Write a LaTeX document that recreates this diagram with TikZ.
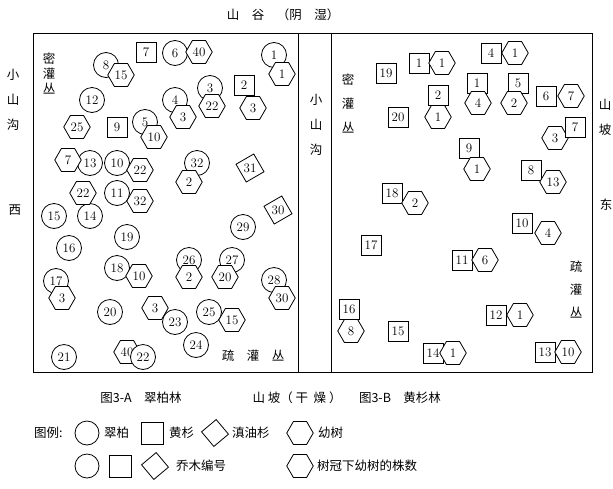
\documentclass[tikz,border=0pt]{standalone}
\usepackage{fontspec}
\newfontfamily\cjk{Noto Sans CJK SC}
\usetikzlibrary{shapes.geometric}

\tikzset{
  tree/.style={draw, line width=0.8pt, fill=white, inner sep=0pt, font=\fontsize{13}{13}\selectfont},
  cuibai/.style={tree, circle, minimum size=25pt},
  huangshan/.style={tree, rectangle, minimum size=20pt},
  dianyou/.style={tree, regular polygon, regular polygon sides=4, minimum size=29pt, shape border rotate=30},
  youshu/.style={tree, regular polygon, regular polygon sides=6, minimum size=26.5pt},
  cjktext/.style={font=\cjk\fontsize{12.5}{12.5}\selectfont, inner sep=0pt},
}

\begin{document}
\begin{tikzpicture}[x=1pt, y=-1pt]
   \useasboundingbox (0,0) rectangle (613,488);

   % frame
   \draw [line width=0.9pt] (33,33) rectangle (592,372);
   \draw [line width=0.9pt] (298,33) -- (298,372);
   \draw [line width=0.9pt] (331,33) -- (331,372);

   \node [cjktext] (top) at (283,15) {山\quad 谷\quad （阴\quad 湿）};
   \node [cjktext, align=center, font=\cjk\fontsize{12.5}{25}\selectfont] (westgully) at (13,100) {小\\山\\沟};
   \node [cjktext] (west) at (15,210) {西};
   \node [cjktext, align=center, font=\cjk\fontsize{12.5}{25}\selectfont] (midgully) at (316,125) {小\\山\\沟};
   \node [cjktext, align=center, font=\cjk\fontsize{12.5}{25}\selectfont] (eastslope) at (605,117) {山\\坡};
   \node [cjktext] (east) at (606,205) {东};

   % 3-A
   \node [cjktext, align=center, font=\cjk\fontsize{12.5}{15}\selectfont] (Adense) at (49,73) {密\\灌\\丛};
   \node [cjktext] (Asparse) at (253,356) {疏\quad 灌\quad 丛};

   \node [huangshan] (As7) at (146,52) {7};
   \node [huangshan] (As9) at (117,127) {9};
   \node [huangshan] (As2) at (244,85) {2};
   \node [dianyou] (Ad31) at (250,168) {31};
   \node [dianyou] (Ad30) at (278,210) {30};

   \node [cuibai] (Ac6) at (175,53) {6};
   \node [cuibai] (Ac1) at (274,55) {1};
   \node [cuibai] (Ac8) at (106,65) {8};
   \node [cuibai] (Ac12) at (92,100) {12};
   \node [cuibai] (Ac5) at (145,122) {5};
   \node [cuibai] (Ac4) at (175,100) {4};
   \node [cuibai] (Ac3) at (210,88) {3};
   \node [cuibai] (Ac13) at (90,163) {13};
   \node [cuibai] (Ac10) at (117,163) {10};
   \node [cuibai] (Ac14) at (90,216) {14};
   \node [cuibai] (Ac11) at (117,193) {11};
   \node [cuibai] (Ac15) at (54,216) {15};
   \node [cuibai] (Ac19) at (127,237) {19};
   \node [cuibai] (Ac16) at (69,248) {16};
   \node [cuibai] (Ac32) at (197,163) {32};
   \node [cuibai] (Ac29) at (243,227) {29};
   \node [cuibai] (Ac18) at (117,268) {18};
   \node [cuibai] (Ac17) at (56,281) {17};
   \node [cuibai] (Ac20) at (110,312) {20};
   \node [cuibai] (Ac21) at (64,357) {21};
   \node [cuibai] (Ac26) at (189,260) {26};
   \node [cuibai] (Ac27) at (232,260) {27};
   \node [cuibai] (Ac28) at (274,280) {28};
   \node [cuibai] (Ac25) at (209,312) {25};
   \node [cuibai] (Ac24) at (196,345) {24};

   \node [youshu] (Ah40) at (199,52) {40};
   \node [youshu] (Ah1) at (282,74) {1};
   \node [youshu] (Ah15) at (121,75) {15};
   \node [youshu] (Ah25) at (77,127) {25};
   \node [youshu] (Ah10) at (154,137) {10};
   \node [youshu] (Ah3) at (183,117) {3};
   \node [youshu] (Ah22) at (212,106) {22};
   \node [youshu] (Ah3b) at (253,108) {3};
   \node [youshu] (Ah7) at (68,160) {7};
   \node [youshu] (Ah22b) at (140,170) {22};
   \node [youshu] (Ah22c) at (83,193) {22};
   \node [youshu] (Ah32) at (140,201) {32};
   \node [youshu] (Ah2) at (189,182) {2};
   \node [youshu] (Ah10b) at (139,276) {10};
   \node [youshu] (Ah3c) at (62,298) {3};
   \node [youshu] (Ah3d) at (155,308) {3};
   \node [youshu] (Ah40b) at (127,352) {40};
   \node [youshu] (Ah2b) at (189,277) {2};
   \node [youshu] (Ah20) at (225,277) {20};
   \node [youshu] (Ah30) at (282,298) {30};
   \node [youshu] (Ah15b) at (232,320) {15};
   \node [cuibai] (Ac23) at (175,322) {23};
   \node [cuibai] (Ac22) at (143,357) {22};

   % 3-B
   \node [cjktext, align=center, font=\cjk\fontsize{12.5}{24}\selectfont] (Bdense) at (348,103) {密\\灌\\丛};
   \node [cjktext, align=center, font=\cjk\fontsize{12.5}{23}\selectfont] (Bsparse) at (576,290) {疏\\灌\\丛};

   \node [huangshan] (Bs19) at (386,73) {19};
   \node [huangshan] (Bs1) at (419,63) {1};
   \node [huangshan] (Bs20) at (398,117) {20};
   \node [huangshan] (Bs2) at (438,95) {2};
   \node [huangshan] (Bs4) at (491,53) {4};
   \node [huangshan] (Bs1b) at (477,83) {1};
   \node [huangshan] (Bs5) at (518,83) {5};
   \node [huangshan] (Bs6) at (546,96) {6};
   \node [huangshan] (Bs9) at (469,148) {9};
   \node [huangshan] (Bs8) at (531,170) {8};
   \node [huangshan] (Bs18) at (392,193) {18};
   \node [huangshan] (Bs17) at (371,245) {17};
   \node [huangshan] (Bs10) at (522,223) {10};
   \node [huangshan] (Bs11) at (462,260) {11};
   \node [huangshan] (Bs16) at (349,309) {16};
   \node [huangshan] (Bs15) at (398,331) {15};
   \node [huangshan] (Bs12) at (496,315) {12};
   \node [huangshan] (Bs14) at (433,353) {14};
   \node [huangshan] (Bs13) at (545,352) {13};

   \node [youshu] (Bh1) at (442,63) {1};
   \node [youshu] (Bh1b) at (438,117) {1};
   \node [youshu] (Bh1c) at (515,53) {1};
   \node [youshu] (Bh4) at (478,103) {4};
   \node [youshu] (Bh2) at (514,103) {2};
   \node [youshu] (Bh7) at (571,96) {7};
   \node [youshu] (Bh3) at (555,138) {3};
   \node [youshu] (Bh1d) at (477,169) {1};
   \node [youshu] (Bh13) at (553,182) {13};
   \node [youshu] (Bh2b) at (415,203) {2};
   \node [youshu] (Bh4b) at (548,233) {4};
   \node [youshu] (Bh6) at (485,260) {6};
   \node [youshu] (Bh8) at (351,331) {8};
   \node [youshu] (Bh1e) at (520,315) {1};
   \node [youshu] (Bh1f) at (453,353) {1};
   \node [youshu] (Bh10) at (568,352) {10};
   \node [huangshan] (Bs7) at (575,127) {7};

   % captions
   \node [cjktext] (capA) at (141,398) {图3-A\quad 翠柏林};
   \node [cjktext] (capmid) at (297,398) {山\ 坡（\ 干\ \ 燥\ ）};
   \node [cjktext] (capB) at (400,398) {图3-B\quad 黄杉林};

   % legend
   \node [cjktext, anchor=west] (legend) at (34,433) {图例:};
   \node [cuibai, minimum size=24pt] (Lc) at (87,433) {};
   \node [cjktext, anchor=west] (Lctext) at (104,433) {翠柏};
   \node [huangshan, minimum size=22pt] (Ls) at (152,433) {};
   \node [cjktext, anchor=west] (Lstext) at (169,433) {黄杉};
   \node [dianyou, minimum size=27pt, shape border rotate=40] (Ld) at (215,433) {};
   \node [cjktext, anchor=west] (Ldtext) at (232,433) {滇油杉};
   \node [youshu] (Lh) at (300,433) {};
   \node [cjktext, anchor=west] (Lhtext) at (318,433) {幼树};

   \node [cuibai, minimum size=24pt] (Lc2) at (87,466) {};
   \node [huangshan, minimum size=22pt] (Ls2) at (120,466) {};
   \node [dianyou, minimum size=27pt, shape border rotate=40] (Ld2) at (155,466) {};
   \node [cjktext, anchor=west] (Ltreeno) at (176,466) {乔木编号};
   \node [youshu] (Lh2) at (300,466) {};
   \node [cjktext, anchor=west] (Lcount) at (317,466) {树冠下幼树的株数};
\end{tikzpicture}
\end{document}
